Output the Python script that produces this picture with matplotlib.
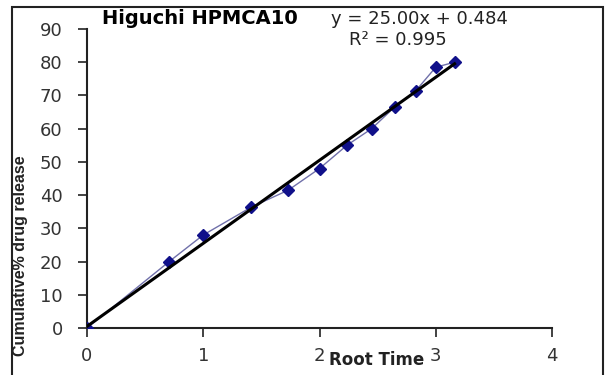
import matplotlib
matplotlib.use("Agg")
import matplotlib.pyplot as plt
from matplotlib.patches import Rectangle

# Data
root_time = [0, 0.707, 1.0, 1.414, 1.732, 2.0, 2.236, 2.449, 2.646, 2.828, 3.0, 3.162]
cum_release = [0, 20.0, 28.0, 36.4, 41.5, 48.0, 55.0, 60.0, 66.5, 71.4, 78.5, 80.0]
slope = 25.00
intercept = 0.484
x_ticks = [0, 1, 2, 3, 4]
y_ticks = [0, 10, 20, 30, 40, 50, 60, 70, 80, 90]
title = "Higuchi HPMCA10"
equation = "y = 25.00x + 0.484"
r2_text = "R² = 0.995"

plt.rcParams['font.family'] = ['DejaVu Sans']

fig = plt.figure(figsize=(6.05, 3.75), dpi=100)
ax = fig.add_axes([87/605, 1-328/375, (552-87)/605, (328-29)/375])

fit_x = [root_time[0], root_time[-1]]
fit_y = [slope*v + intercept for v in fit_x]
ax.plot(root_time, cum_release, color='#7070aa', lw=1.0, marker='D', ms=6,
        mfc='#10108a', mec='#10108a', zorder=3)
ax.plot(fit_x, fit_y, color='black', lw=2.2, zorder=4)

ax.set_xlim(0, 4)
ax.set_ylim(0, 90)
ax.set_xticks(x_ticks)
ax.set_yticks(y_ticks)
ax.tick_params(direction='out', length=6.5, width=1.2, labelsize=13, colors='#222222')
ax.tick_params(axis='x', pad=7)
ax.tick_params(axis='y', pad=11)
for s in ['top', 'right']:
    ax.spines[s].set_visible(False)
for s in ['left', 'bottom']:
    ax.spines[s].set_linewidth(1.5)
    ax.spines[s].set_color('#222222')

for lab in ax.get_xticklabels() + ax.get_yticklabels():
    lab.set_color('#333333')

fig.text(21/605, 1-256/375, "Cumulative% drug release", rotation=90, ha='center', va='center',
         fontsize=11.5, fontweight='bold', color='#222222', family='Liberation Sans')
fig.text(377/605, 1-360/375, "Root Time", ha='center', va='center',
         fontsize=12, fontweight='bold', color='#222222')
fig.text(200/605, 1-19/375, title, ha='center', va='center', fontsize=14,
         fontweight='bold', color='black')
fig.text(508/605, 1-19/375, equation, ha='right', va='center', fontsize=13, color='#222222')
fig.text(398/605, 1-40/375, r2_text, ha='center', va='center', fontsize=13, color='#222222')

# outer chart border
fig.patches.append(Rectangle((12/605, -0.01), (603-12)/605, (375-7)/375 + 0.01,
                             transform=fig.transFigure, fill=False, edgecolor='#222222',
                             lw=1.5))

fig.savefig("out.png", dpi=100)
